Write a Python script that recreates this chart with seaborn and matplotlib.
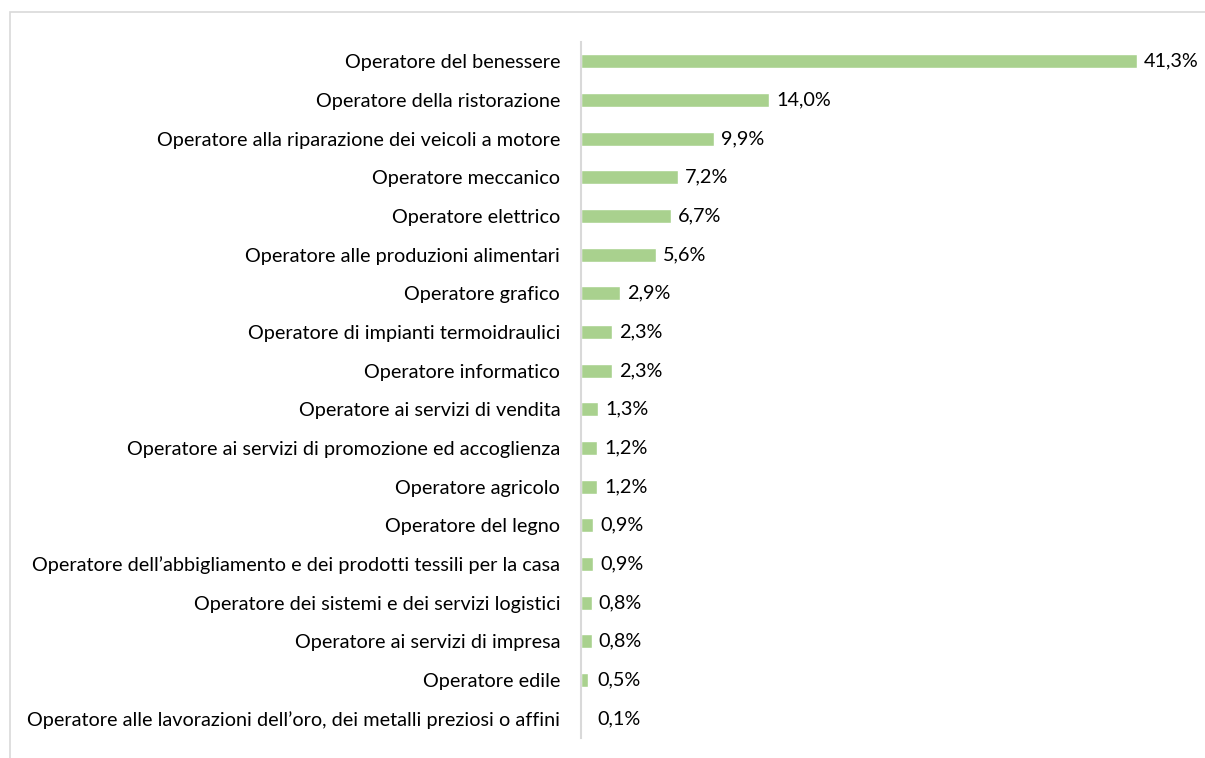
import matplotlib
matplotlib.use("Agg")
import matplotlib.pyplot as plt
import seaborn as sns
import pandas as pd
from matplotlib.patches import Rectangle

categories = [
    "Operatore del benessere",
    "Operatore della ristorazione",
    "Operatore alla riparazione dei veicoli a motore",
    "Operatore meccanico",
    "Operatore elettrico",
    "Operatore alle produzioni alimentari",
    "Operatore grafico",
    "Operatore di impianti termoidraulici",
    "Operatore informatico",
    "Operatore ai servizi di vendita",
    "Operatore ai servizi di promozione ed accoglienza",
    "Operatore agricolo",
    "Operatore del legno",
    "Operatore dell\u2019abbigliamento e dei prodotti tessili per la casa",
    "Operatore dei sistemi e dei servizi logistici",
    "Operatore ai servizi di impresa",
    "Operatore edile",
    "Operatore alle lavorazioni dell\u2019oro, dei metalli preziosi o affini",
]
values = [41.3, 14.0, 9.9, 7.2, 6.7, 5.6, 2.9, 2.3, 2.3, 1.3, 1.2, 1.2, 0.9, 0.9, 0.8, 0.8, 0.5, 0.1]
labels = ["41,3%", "14,0%", "9,9%", "7,2%", "6,7%", "5,6%", "2,9%", "2,3%", "2,3%",
          "1,3%", "1,2%", "1,2%", "0,9%", "0,9%", "0,8%", "0,8%", "0,5%", "0,1%"]

df = pd.DataFrame({"cat": categories, "val": values})

sns.set_theme(style="white")
plt.rcParams["font.family"] = ["Lato", "DejaVu Sans"]

W, H = 1205, 758
fig = plt.figure(figsize=(W / 100, H / 100), dpi=100)
fig.patch.set_facecolor("white")
# light frame
fig.patches.append(Rectangle((9.5 / W, -0.1), 1.2, 1 - 12 / H + 0.1, transform=fig.transFigure,
                             fill=False, edgecolor="#D9D9D9", linewidth=1.2))

ax_left = 581 / W
xmax = 45.0
px_per = 13.46
ax_w = xmax * px_per / W
ax_bottom = 1 - 738 / H
ax_h = (738 - 42) / H
ax = fig.add_axes([ax_left, ax_bottom, ax_w, ax_h])

sns.barplot(data=df, x="val", y="cat", orient="h", color="#A9D18E", width=0.37,
            saturation=1, ax=ax)
ax.set_xlim(0, xmax)
ax.set_ylim(17.5, -0.5)
ax.set_xlabel("")
ax.set_ylabel("")
ax.set_xticks([])
ax.tick_params(axis="y", length=0, pad=15, labelsize=14.3, labelcolor="#000000")
for s in ["top", "right", "bottom"]:
    ax.spines[s].set_visible(False)
ax.spines["left"].set_color("#D9D9D9")
ax.spines["left"].set_linewidth(1.5)
ax.set_facecolor("none")

min_x = (597 - 581) / px_per
for i, (v, lab) in enumerate(zip(values, labels)):
    x = max(v + 7 / px_per, min_x)
    ax.text(x, i, lab, va="center", ha="left", fontsize=14.3, color="#000000")

fig.savefig("out.png", dpi=100)
